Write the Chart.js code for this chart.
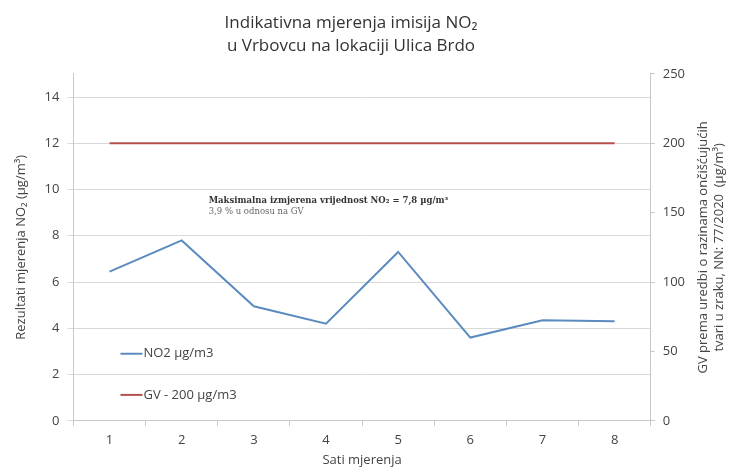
<!DOCTYPE html>
<html>
<head>
<meta charset="utf-8">
<script src="https://cdn.jsdelivr.net/npm/chart.js@4/dist/chart.umd.min.js"></script>
<style>
  body { margin: 0; background: #fff; }
  #wrap { width: 734px; height: 468px; }
</style>
</head>
<body>
<div id="wrap"><canvas id="chart1" width="734" height="468"></canvas></div>
<script>
/* data */
const hours = ['1', '2', '3', '4', '5', '6', '7', '8'];
const no2Values = [6.45, 7.8, 4.95, 4.2, 7.3, 3.6, 4.35, 4.3];
const gvValues = [200, 200, 200, 200, 200, 200, 200, 200];
const leftTicks = [0, 2, 4, 6, 8, 10, 12, 14];
const rightTicks = [0, 50, 100, 150, 200, 250];

const FONT = "'Open Sans', 'Noto Sans', sans-serif";
const rightTitle = ['GV prema uredbi o razinama ončišćujućih', 'tvari u zraku, NN: 77/2020  (\u00b5g/m\u00b3)'];

// legend drawn inside the plot, bottom-left
const insideLegend = {
    id: 'insideLegend',
    afterDatasetsDraw(chart) {
        const ctx = chart.ctx;
        const x = chart.scales.x;
        const y = chart.scales.y;
        const rowsAt = [2.9, 1.12];
        ctx.save();
        ctx.font = '13px ' + FONT;
        ctx.textBaseline = 'middle';
        chart.data.datasets.forEach((ds, i) => {
            const py = y.getPixelForValue(rowsAt[i]);
            const px = x.left + 47;
            ctx.strokeStyle = ds.borderColor;
            ctx.lineWidth = 2;
            ctx.beginPath();
            ctx.moveTo(px, py);
            ctx.lineTo(px + 22, py);
            ctx.stroke();
            ctx.fillStyle = '#444';
            ctx.fillText(ds.label, px + 23, py);
        });
        ctx.restore();
    }
};

// note about the maximum value
const maxNote = {
    id: 'maxNote',
    afterDatasetsDraw(chart) {
        const ctx = chart.ctx;
        const px = chart.scales.x.getPixelForValue(1) + 27;
        const y = chart.scales.y;
        ctx.save();
        ctx.textBaseline = 'middle';
        ctx.fillStyle = '#333';
        ctx.font = 'bold 8.5px "DejaVu Serif", serif';
        ctx.fillText('Maksimalna izmjerena vrijednost NO\u2082 = 7,8 \u00b5g/m\u00b3', px, y.getPixelForValue(9.5));
        ctx.font = '8.5px "DejaVu Serif", serif';
        ctx.fillStyle = '#666';
        ctx.fillText('3,9 % u odnosu na GV', px, y.getPixelForValue(9.05));
        ctx.restore();
    }
};

// right axis title, reading bottom to top like the left one
const rightAxisTitle = {
    id: 'rightAxisTitle',
    afterDraw(chart) {
        const ctx = chart.ctx;
        const y2 = chart.scales.y2;
        const cy = (y2.top + y2.bottom) / 2;
        ctx.save();
        ctx.translate(chart.width - 31, cy);
        ctx.rotate(-Math.PI / 2);
        ctx.font = '13px ' + FONT;
        ctx.fillStyle = '#444';
        ctx.textAlign = 'center';
        ctx.textBaseline = 'middle';
        ctx.fillText(rightTitle[0], 0, 0);
        ctx.fillText(rightTitle[1], 0, 16);
        ctx.restore();
    }
};

const context = document.getElementById('chart1').getContext('2d');

const setup = {
    labels: hours,
    datasets: [{
        label: 'NO2 \u00b5g/m3',
        data: no2Values,
        borderColor: '#5b8bbf',
        borderWidth: 2,
        pointRadius: 0,
        tension: 0,
        yAxisID: 'y'
    }, {
        label: 'GV - 200 \u00b5g/m3',
        data: gvValues,
        borderColor: '#b5504d',
        borderWidth: 2,
        pointRadius: 0,
        tension: 0,
        yAxisID: 'y2'
    }]
};

const config = {
    type: 'line',
    data: setup,
    plugins: [insideLegend, maxNote, rightAxisTitle],
    options: {
        responsive: false,
        animation: false,
        layout: { padding: { left: 9, right: 41, top: 0, bottom: 0 } },
        plugins: {
            legend: { display: false },
            tooltip: { enabled: false },
            title: {
                display: true,
                text: ['Indikativna mjerenja imisija NO\u2082', 'u Vrbovcu na lokaciji Ulica Brdo'],
                color: '#333',
                font: { family: FONT, size: 17, weight: 'normal', lineHeight: 1.35 },
                padding: { top: 12, bottom: 16 }
            }
        },
        scales: {
            x: {
                offset: true,
                grid: { display: true, drawOnChartArea: false, offset: true, tickLength: 5, color: '#c8c8c8' },
                border: { color: '#c8c8c8' },
                ticks: { color: '#444', font: { family: FONT, size: 13 }, padding: 7 },
                title: { display: true, text: 'Sati mjerenja', color: '#444', font: { family: FONT, size: 13 }, padding: { top: -3, bottom: 0 } }
            },
            y: {
                position: 'left',
                min: 0,
                max: 15,
                afterBuildTicks: (axis) => { axis.ticks = leftTicks.map(v => ({ value: v })); },
                grid: { color: '#d9d9d9', tickLength: 6 },
                border: { color: '#c8c8c8' },
                ticks: { color: '#444', font: { family: FONT, size: 13 }, padding: 8 },
                title: { display: true, text: 'Rezultati mjerenja NO\u2082 (\u00b5g/m\u00b3)', color: '#444', font: { family: FONT, size: 13 }, padding: { bottom: 8 } }
            },
            y2: {
                position: 'right',
                min: 0,
                max: 250,
                afterBuildTicks: (axis) => { axis.ticks = rightTicks.map(v => ({ value: v })); },
                grid: { drawOnChartArea: false, color: '#c8c8c8', tickLength: 4 },
                border: { color: '#c8c8c8' },
                ticks: { color: '#444', font: { family: FONT, size: 13 }, padding: 8 }
            }
        }
    }
};

const chart1 = new Chart(context, config);
</script>
</body>
</html>
